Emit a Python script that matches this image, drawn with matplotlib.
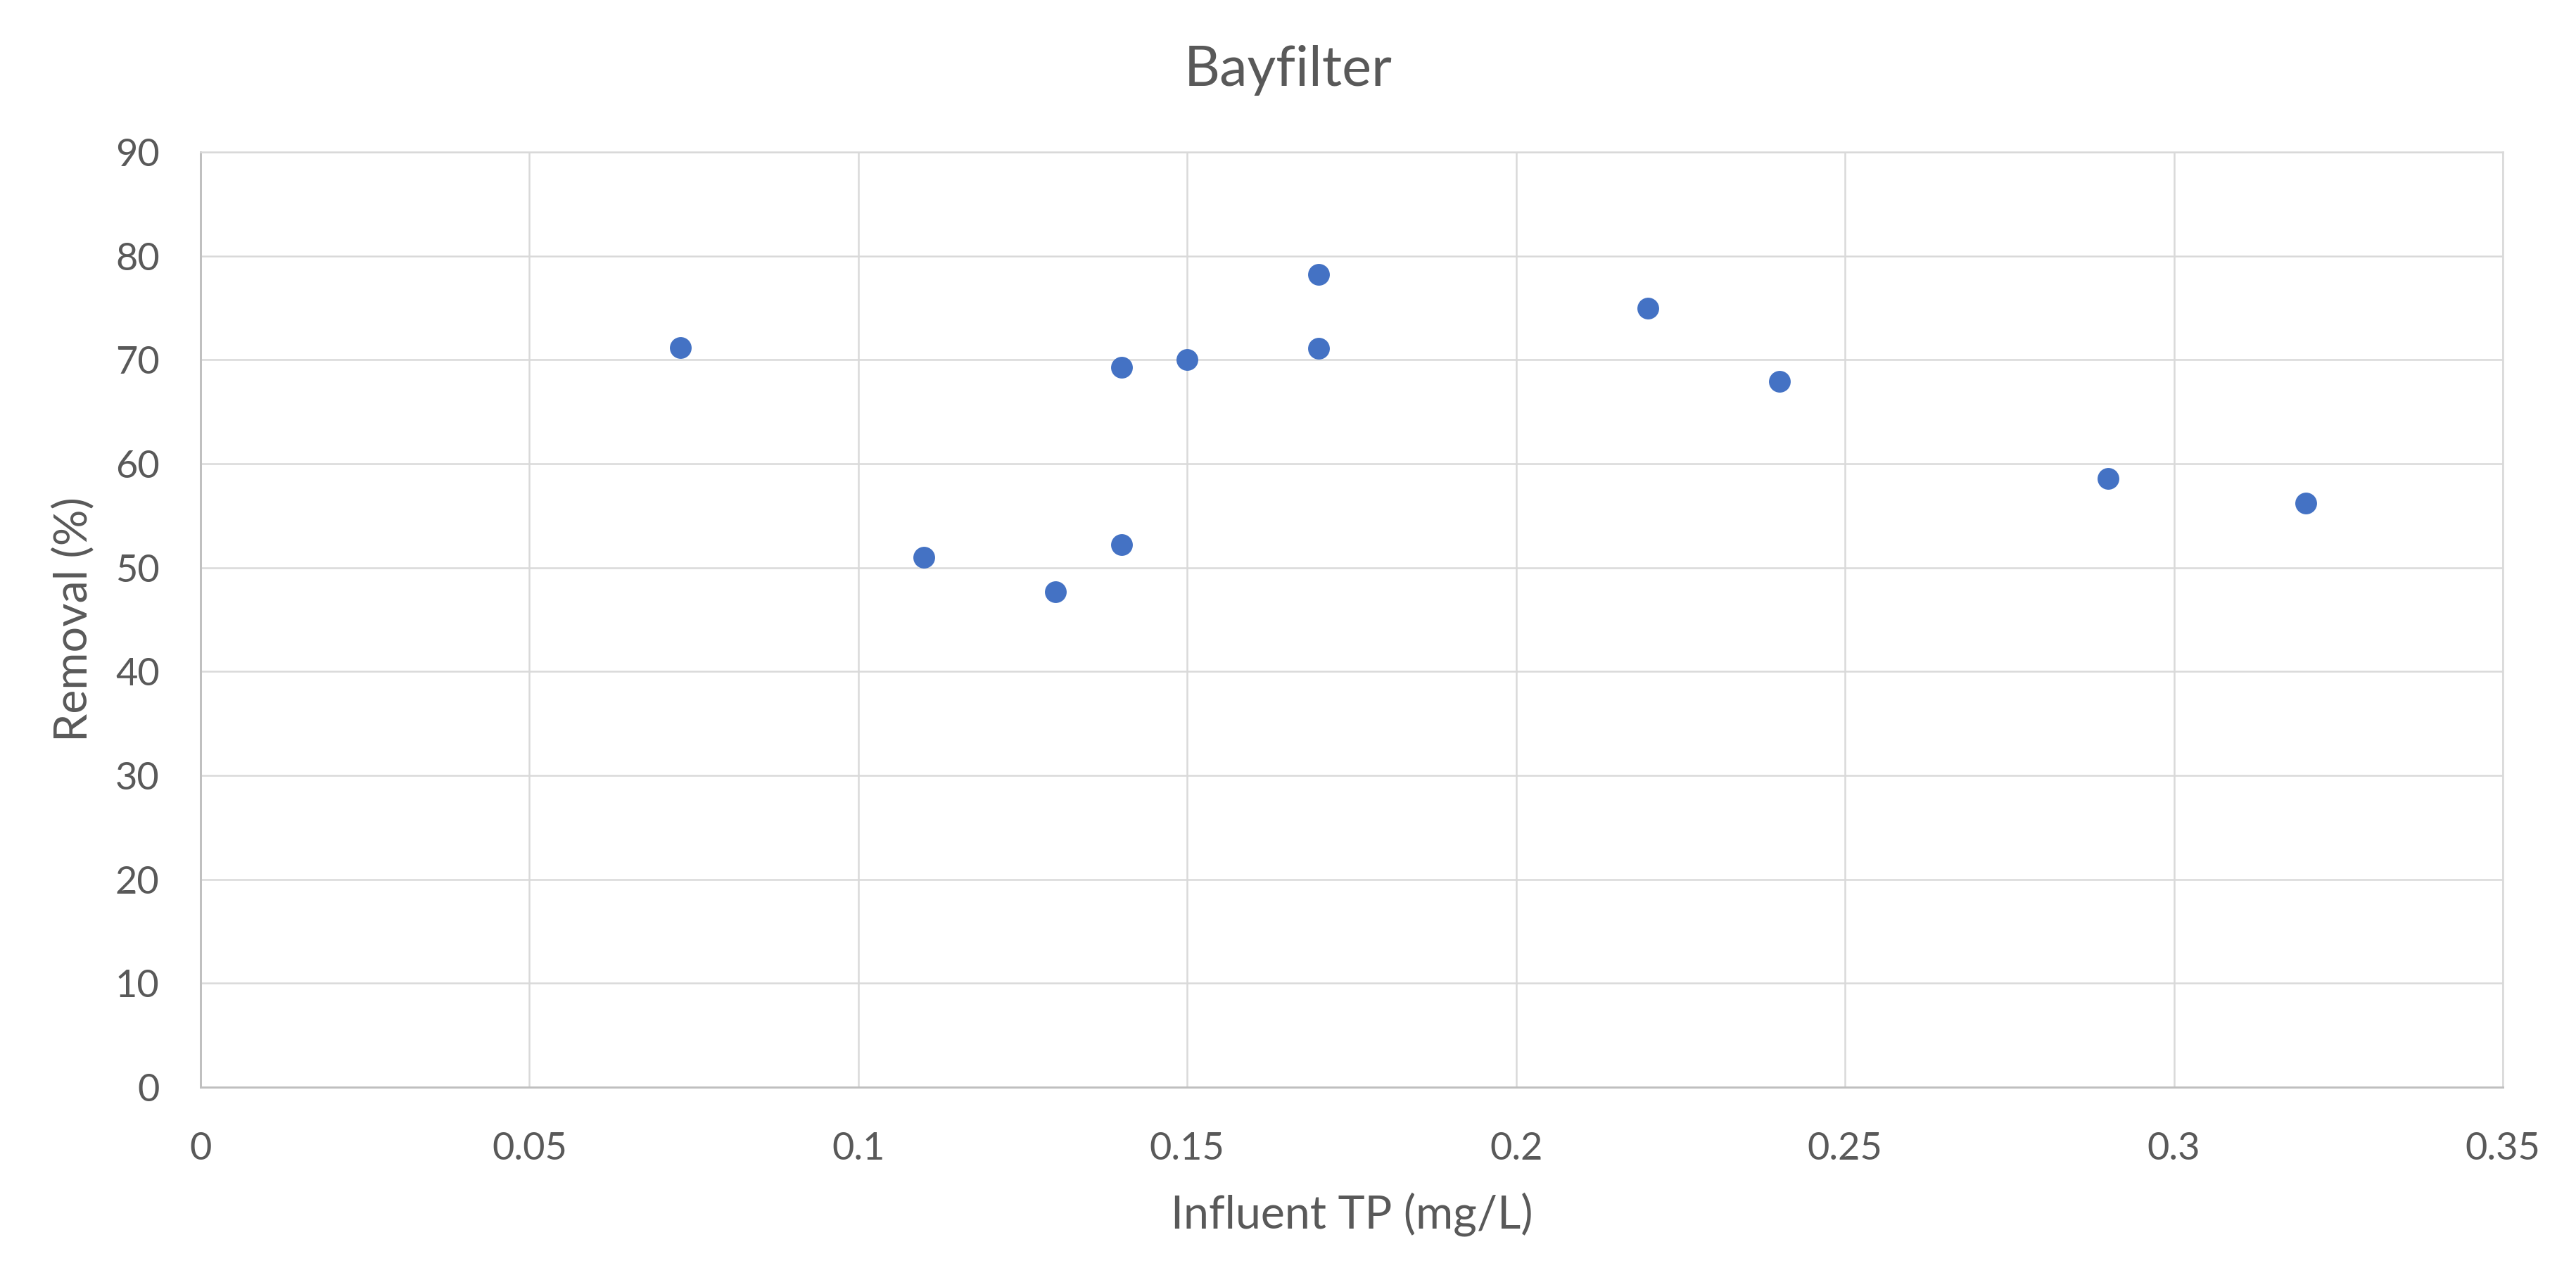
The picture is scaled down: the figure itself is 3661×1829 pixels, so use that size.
import matplotlib
matplotlib.use('Agg')
import matplotlib.pyplot as plt

# influent TP (mg/L) and removal (%)
influent_tp = [0.073, 0.11, 0.13, 0.14, 0.14, 0.15, 0.17, 0.17, 0.22, 0.24, 0.29, 0.32]
removal = [71.2, 51.0, 47.7, 52.2, 69.3, 70.0, 78.2, 71.1, 75.0, 67.9, 58.6, 56.2]

x_ticks = [0, 0.05, 0.1, 0.15, 0.2, 0.25, 0.3, 0.35]
x_tick_labels = ['0', '0.05', '0.1', '0.15', '0.2', '0.25', '0.3', '0.35']
y_ticks = [0, 10, 20, 30, 40, 50, 60, 70, 80, 90]

text_col = '#595959'
grid_col = '#d9d9d9'
axis_col = '#bfbfbf'

plt.rcParams['font.family'] = ['Lato', 'DejaVu Sans']

fig = plt.figure(figsize=(3661 / 300, 1829 / 300), dpi=300)
ax = fig.add_axes([285 / 3661, 1 - 1545 / 1829, (3557 - 285) / 3661, (1545 - 216) / 1829])

ax.scatter(influent_tp, removal, s=55, color='#4472c4', zorder=3, linewidths=0)

ax.set_xlim(0, 0.35)
ax.set_ylim(0, 90)
ax.set_xticks(x_ticks)
ax.set_xticklabels(x_tick_labels)
ax.set_yticks(y_ticks)
ax.grid(True, color=grid_col, linewidth=0.6, zorder=0)
ax.set_axisbelow(True)

for side in ['top', 'right']:
    ax.spines[side].set_color(grid_col)
    ax.spines[side].set_linewidth(0.6)
for side in ['left', 'bottom']:
    ax.spines[side].set_color(axis_col)
    ax.spines[side].set_linewidth(0.7)

ax.tick_params(length=0, labelsize=13, labelcolor=text_col)
ax.tick_params(axis='x', pad=15)
ax.tick_params(axis='y', pad=14)

ax.set_xlabel('Influent TP (mg/L)', fontsize=15.5, color=text_col, labelpad=9)
ax.set_ylabel('Removal (%)', fontsize=15.5, color=text_col, labelpad=7)
# title sits centred on the whole figure, not the axes
fig.suptitle('Bayfilter', x=0.5, y=1 - 122 / 1829, va='baseline', fontsize=19, color=text_col)

plt.savefig('out.png', dpi=300)
